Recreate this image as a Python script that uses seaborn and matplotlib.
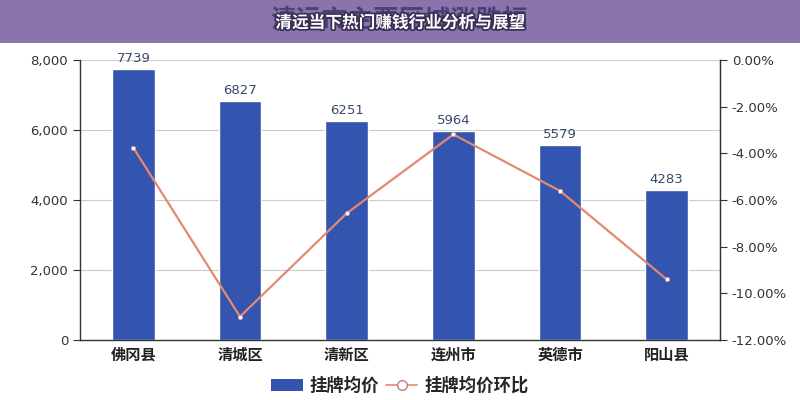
import matplotlib
matplotlib.use("Agg")
import matplotlib.pyplot as plt
import matplotlib.patheffects as pe
import matplotlib.ticker as mticker
from matplotlib.lines import Line2D
from matplotlib.patches import FancyBboxPatch, Rectangle
import numpy as np
import pandas as pd
import seaborn as sns

# data
districts = ["佛冈县", "清城区", "清新区", "连州市", "英德市", "阳山县"]
avg_price = [7739, 6827, 6251, 5964, 5579, 4283]
mom_change = [-3.76, -11.0, -6.57, -3.19, -5.61, -9.40]

TITLE = "清远当下热门赚钱行业分析与展望"
GHOST_TITLE = "清远市主要区域涨跌幅"

BAR_COLOR = "#3355B0"
LINE_COLOR = "#E38A6E"
HEADER_COLOR = "#8B74AB"

sns.set_style("white")
plt.rcParams["font.family"] = ["DejaVu Sans", "Noto Sans CJK SC"]

df = pd.DataFrame({"district": districts, "price": avg_price, "mom": mom_change})

fig = plt.figure(figsize=(8, 4), dpi=100)
ax = fig.add_axes([0.1, 0.15, 0.8, 0.70])

sns.barplot(data=df, x="district", y="price", color=BAR_COLOR, width=0.4,
            saturation=1, ax=ax, zorder=2)
ax.set_ylim(0, 8000)
ax.set_xlim(-0.5, len(districts) - 0.5)
ax.yaxis.set_major_locator(mticker.MultipleLocator(2000))
ax.yaxis.set_major_formatter(mticker.FuncFormatter(lambda v, _: f"{int(v):,}"))
ax.grid(axis="y", color="#CCCCCC", linewidth=0.8, zorder=0)
ax.set_axisbelow(True)
ax.set_xlabel("")
ax.set_ylabel("")

for i, v in enumerate(df["price"]):
    ax.text(i, v + 120, f"{v}", ha="center", va="bottom", fontsize=9.5, color="#3A4A6B")

# x ticks: labels at centres, tick marks at band edges
ax.set_xticks(range(len(districts)))
ax.set_xticklabels(districts, fontsize=11, fontweight="bold", color="#222222",
                   family=["Noto Sans CJK SC"])
ax.tick_params(axis="x", length=0, pad=5)
ax.set_xticks(np.arange(-0.5, len(districts), 1), minor=True)
ax.tick_params(axis="x", which="minor", length=5, direction="out", color="#333333")
ax.tick_params(axis="y", length=5, direction="out", color="#333333", labelsize=9.5,
               labelcolor="#333333", left=True)

ax.spines["top"].set_visible(False)
for side in ["left", "bottom", "right"]:
    ax.spines[side].set_color("#333333")
    ax.spines[side].set_linewidth(1)

ax2 = ax.twinx()
ax2.plot(range(len(districts)), df["mom"], color=LINE_COLOR, linewidth=1.6,
         marker="o", markersize=3, markerfacecolor="white",
         markeredgecolor="#D99AA8", markeredgewidth=0.6, zorder=3)
ax2.set_ylim(-12, 0)
ax2.yaxis.set_major_locator(mticker.MultipleLocator(2))
ax2.yaxis.set_major_formatter(mticker.FuncFormatter(lambda v, _: f"{v:.2f}%"))
ax2.tick_params(axis="y", length=5, direction="out", color="#333333", labelsize=9.5,
                labelcolor="#333333", right=True)
ax2.grid(False)
for side in ["top", "left", "bottom"]:
    ax2.spines[side].set_visible(False)
ax2.spines["right"].set_color("#333333")

# header bar with a faded heading behind the title
header = Rectangle((0, 0.8925), 1, 0.1075, transform=fig.transFigure,
                   facecolor=HEADER_COLOR, edgecolor="none", zorder=0)
fig.patches.append(header)
ghost = fig.text(0.499, 0.951, GHOST_TITLE, ha="center", va="center", fontsize=18.5,
                 fontweight="bold", color="#4E4076",
                 family=["Noto Sans CJK SC"])
ghost.set_clip_path(header)
fig.text(0.5, 0.943, TITLE, ha="center", va="center", fontsize=12,
         fontweight="bold", color="white", family=["Noto Sans CJK SC"],
         path_effects=[pe.withStroke(linewidth=2.5, foreground="#3A2E55")])

# legend
handles = [
    FancyBboxPatch((0, 0), 1, 1, boxstyle="round,pad=0.1", facecolor=BAR_COLOR,
                   edgecolor="none"),
    Line2D([0], [0], color=LINE_COLOR, linewidth=1.2, marker="o", markersize=7,
           markerfacecolor="white", markeredgecolor="#C77A86"),
]
fig.legend(handles, ["挂牌均价", "挂牌均价环比"], loc="center",
           bbox_to_anchor=(0.5, 0.035), ncol=2, frameon=False,
           prop={"family": ["Noto Sans CJK SC"], "weight": "bold", "size": 12.5},
           handlelength=1.8, handletextpad=0.4, columnspacing=0.4)

fig.savefig("out.png", dpi=100, facecolor="white")
